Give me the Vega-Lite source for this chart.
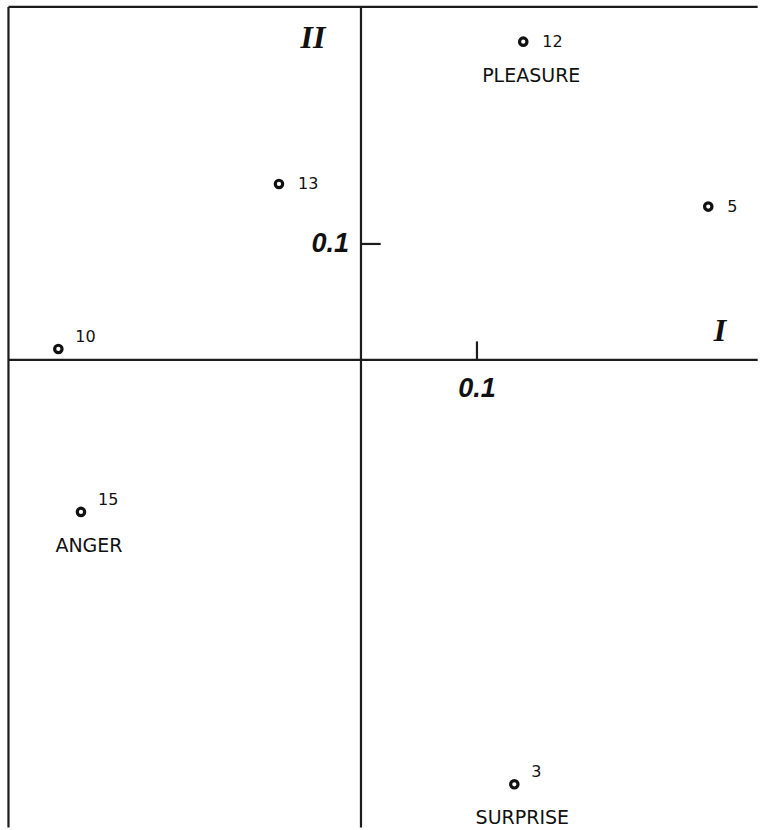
{
  "$schema": "https://vega.github.io/schema/vega-lite/v6.json",
  "width": 760,
  "height": 830,
  "autosize": {"type": "fit", "contains": "padding"},
  "padding": 0,
  "background": "white",
  "config": {"view": {"stroke": null}},
  "data": {"values": [{}]},
  "datasets": {
    "stimuli": [
      {"id": "12", "emotion": "PLEASURE", "labelSide": "right", "x": 0.1399, "y": 0.2744},
      {"id": "13", "emotion": "", "labelSide": "right", "x": -0.0707, "y": 0.1517},
      {"id": "5", "emotion": "", "labelSide": "right", "x": 0.2994, "y": 0.1322},
      {"id": "10", "emotion": "", "labelSide": "upper", "x": -0.2609, "y": 0.0095},
      {"id": "15", "emotion": "ANGER", "labelSide": "upper", "x": -0.2414, "y": -0.131},
      {"id": "3", "emotion": "SURPRISE", "labelSide": "upper", "x": 0.1322, "y": -0.3658}
    ]
  },
  "layer": [
    {
      "mark": {"type": "rule", "strokeWidth": 2.2, "color": "#1c1c1c"},
      "encoding": {
        "x": {"datum": -0.3039, "type": "quantitative", "scale": {"domain": [-0.3112, 0.344], "nice": false, "zero": false}, "axis": null},
        "y": {"datum": 0.3043, "type": "quantitative", "scale": {"domain": [-0.4052, 0.3103], "nice": false, "zero": false}, "axis": null},
        "y2": {"datum": -0.403}
      }
    },
    {
      "mark": {"type": "rule", "strokeWidth": 2.2, "color": "#1c1c1c"},
      "encoding": {
        "x": {"datum": -0.3039, "type": "quantitative"},
        "x2": {"datum": 0.342},
        "y": {"datum": 0.3043, "type": "quantitative"}
      }
    },
    {
      "mark": {"type": "rule", "strokeWidth": 2.2, "color": "#1c1c1c"},
      "encoding": {
        "x": {"datum": 0, "type": "quantitative"},
        "y": {"datum": 0.3043, "type": "quantitative"},
        "y2": {"datum": -0.403}
      }
    },
    {
      "mark": {"type": "rule", "strokeWidth": 2.2, "color": "#1c1c1c"},
      "encoding": {
        "x": {"datum": -0.3039, "type": "quantitative"},
        "x2": {"datum": 0.342},
        "y": {"datum": 0, "type": "quantitative"}
      }
    },
    {
      "mark": {"type": "rule", "strokeWidth": 2.2, "color": "#1c1c1c"},
      "encoding": {
        "x": {"datum": 0.1, "type": "quantitative"},
        "y": {"datum": 0, "type": "quantitative"},
        "y2": {"datum": 0.016}
      }
    },
    {
      "mark": {"type": "rule", "strokeWidth": 2.2, "color": "#1c1c1c"},
      "encoding": {
        "x": {"datum": 0, "type": "quantitative"},
        "x2": {"datum": 0.017},
        "y": {"datum": 0.1, "type": "quantitative"}
      }
    },
    {
      "mark": {"type": "text", "text": "0.1", "font": "Liberation Sans", "fontStyle": "italic", "fontWeight": "bold", "fontSize": 27, "color": "#111", "align": "center", "baseline": "middle", "dy": 29},
      "encoding": {
        "x": {"datum": 0.1, "type": "quantitative"},
        "y": {"datum": 0, "type": "quantitative"}
      }
    },
    {
      "mark": {"type": "text", "text": "0.1", "font": "Liberation Sans", "fontStyle": "italic", "fontWeight": "bold", "fontSize": 27, "color": "#111", "align": "right", "baseline": "middle", "dx": -12},
      "encoding": {
        "x": {"datum": 0, "type": "quantitative"},
        "y": {"datum": 0.1, "type": "quantitative"}
      }
    },
    {
      "mark": {"type": "text", "text": "II", "font": "Liberation Serif", "fontStyle": "italic", "fontWeight": "bold", "fontSize": 32, "color": "#111", "align": "center", "baseline": "middle"},
      "encoding": {
        "x": {"datum": -0.0414, "type": "quantitative"},
        "y": {"datum": 0.2776, "type": "quantitative"}
      }
    },
    {
      "mark": {"type": "text", "text": "I", "font": "Liberation Serif", "fontStyle": "italic", "fontWeight": "bold", "fontSize": 32, "color": "#111", "align": "center", "baseline": "middle"},
      "encoding": {
        "x": {"datum": 0.3095, "type": "quantitative"},
        "y": {"datum": 0.025, "type": "quantitative"}
      }
    },
    {
      "data": {"name": "stimuli"},
      "mark": {"type": "point", "shape": "circle", "filled": false, "size": 55, "strokeWidth": 3.2, "color": "#111", "opacity": 1},
      "encoding": {
        "x": {"field": "x", "type": "quantitative"},
        "y": {"field": "y", "type": "quantitative"}
      }
    },
    {
      "data": {"name": "stimuli"},
      "transform": [{"filter": "datum.labelSide === 'right'"}],
      "mark": {"type": "text", "font": "DejaVu Sans", "fontSize": 16, "color": "#111", "align": "left", "baseline": "middle", "dx": 19},
      "encoding": {
        "x": {"field": "x", "type": "quantitative"},
        "y": {"field": "y", "type": "quantitative"},
        "text": {"field": "id"}
      }
    },
    {
      "data": {"name": "stimuli"},
      "transform": [{"filter": "datum.labelSide === 'upper'"}],
      "mark": {"type": "text", "font": "DejaVu Sans", "fontSize": 16, "color": "#111", "align": "left", "baseline": "middle", "dx": 17, "dy": -12},
      "encoding": {
        "x": {"field": "x", "type": "quantitative"},
        "y": {"field": "y", "type": "quantitative"},
        "text": {"field": "id"}
      }
    },
    {
      "data": {"name": "stimuli"},
      "transform": [{"filter": "datum.emotion !== ''"}],
      "mark": {"type": "text", "font": "DejaVu Sans", "fontSize": 19, "color": "#111", "align": "center", "baseline": "middle", "dx": 8, "dy": 34},
      "encoding": {
        "x": {"field": "x", "type": "quantitative"},
        "y": {"field": "y", "type": "quantitative"},
        "text": {"field": "emotion"}
      }
    }
  ]
}
